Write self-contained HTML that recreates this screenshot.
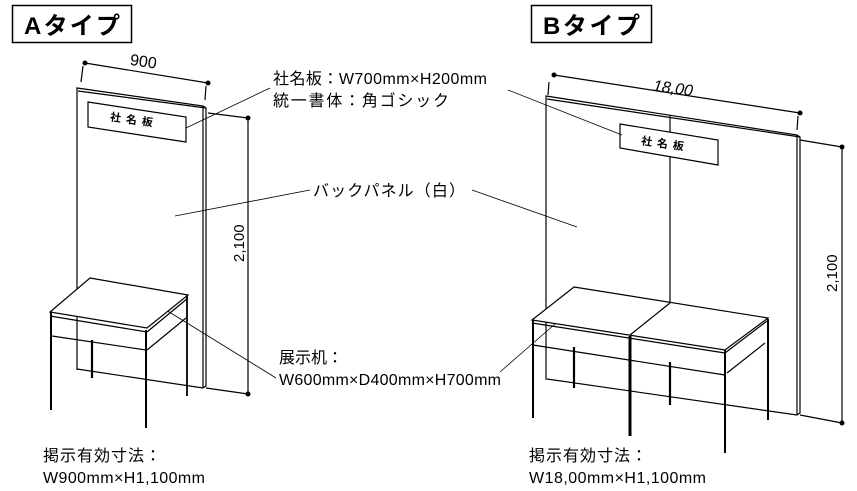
<!DOCTYPE html>
<html><head><meta charset="utf-8"><style>
html,body{margin:0;padding:0;background:#fff;}
svg{display:block;}
text{font-family:"Liberation Sans","Noto Sans CJK JP",sans-serif;fill:#000;}
</style></head><body>
<svg width="857" height="491" viewBox="0 0 857 491" xmlns="http://www.w3.org/2000/svg">
<g fill="none" stroke="#000" stroke-width="1.2">
<rect x="12.5" y="5.5" width="119" height="37" stroke-width="1.5"/>
<rect x="531.5" y="5.5" width="120" height="37" stroke-width="1.5"/>

<line x1="85" y1="63" x2="208" y2="83"/>
<line x1="83" y1="66" x2="81" y2="82"/>
<line x1="206" y1="86" x2="205" y2="100"/>
<polyline points="77,370 77,88 203,106 203,388"/>
<line x1="78" y1="91" x2="206" y2="108"/>
<polyline points="203,106 206,108 206,386 203,388"/>
<line x1="77" y1="369" x2="203" y2="388"/>
<polygon points="88,102 186,117 186,142 88,127"/>
<line x1="248" y1="118" x2="248" y2="394"/>
<line x1="208" y1="113" x2="248" y2="118"/>
<line x1="206" y1="388" x2="248" y2="394"/>
<line x1="186" y1="128" x2="270" y2="88" stroke-width="0.8"/>
<line x1="175" y1="216" x2="310" y2="190" stroke-width="0.8"/>
<line x1="153" y1="302" x2="276" y2="378" stroke-width="0.8"/>
<polygon points="90,278 188,295 147,328 50,312" fill="#fff"/>
<line x1="50" y1="316" x2="147" y2="332"/>
<line x1="147" y1="332" x2="188" y2="298"/>
<line x1="52" y1="336" x2="146" y2="350"/>
<line x1="147" y1="350" x2="186" y2="318"/>
<line x1="51" y1="312" x2="51" y2="410" stroke-width="2"/>
<line x1="146" y1="330" x2="146" y2="428" stroke-width="2"/>
<line x1="187" y1="296" x2="187" y2="396" stroke-width="1.8"/>
<line x1="92" y1="340" x2="92" y2="378" stroke-width="2.2"/>

<line x1="554" y1="75" x2="800" y2="113"/>
<line x1="549" y1="82" x2="548" y2="95"/>
<line x1="798" y1="116" x2="797" y2="130"/>
<polyline points="546,380 546,96 797,135 797,415"/>
<line x1="547" y1="99" x2="800" y2="137"/>
<polyline points="797,135 800,137 800,413 797,415"/>
<line x1="547" y1="379" x2="797" y2="415"/>
<line x1="670" y1="115" x2="670" y2="305"/>
<polygon points="620,124 718,140 718,165 620,148" fill="#fff"/>
<line x1="842" y1="147" x2="842" y2="423"/>
<line x1="800" y1="140" x2="842" y2="147"/>
<line x1="800" y1="415" x2="842" y2="423"/>
<line x1="508" y1="90" x2="622" y2="135" stroke-width="0.8"/>
<line x1="472" y1="190" x2="577" y2="227" stroke-width="0.8"/>
<line x1="500" y1="372" x2="563" y2="317" stroke-width="0.8"/>
<polygon points="574,287 768,318 725,350 532,320" fill="#fff"/>
<line x1="670" y1="303" x2="630" y2="335"/>
<line x1="532" y1="323" x2="725" y2="353"/>
<line x1="725" y1="353" x2="767" y2="321"/>
<line x1="533" y1="345" x2="725" y2="375"/>
<line x1="727" y1="373" x2="765" y2="343"/>
<line x1="533" y1="320" x2="533" y2="418" stroke-width="2"/>
<line x1="630" y1="336" x2="630" y2="436" stroke-width="3"/>
<line x1="725" y1="350" x2="725" y2="453" stroke-width="2"/>
<line x1="768" y1="319" x2="768" y2="420" stroke-width="2"/>
<line x1="574" y1="347" x2="574" y2="388" stroke-width="2.2"/>
<line x1="670" y1="362" x2="670" y2="405" stroke-width="2.2"/>
</g>
<g fill="#000">
<circle cx="85" cy="63" r="2.5"/><circle cx="208" cy="83" r="2.5"/>
<circle cx="248" cy="118" r="2.5"/><circle cx="248" cy="394" r="2.5"/>
<circle cx="554" cy="75" r="2.5"/><circle cx="800" cy="113" r="2.5"/>
<circle cx="842" cy="147" r="2.5"/><circle cx="842" cy="423" r="2.5"/>
</g>
<text x="24" y="34" font-size="24" font-weight="bold" textLength="96">Aタイプ</text>
<text x="543" y="34" font-size="24" font-weight="bold" textLength="97">Bタイプ</text>
<text x="130" y="67" font-size="16" transform="rotate(8 145 62)">900</text>
<text x="653" y="93" font-size="16" font-style="italic" transform="rotate(8 670 88)">18,00</text>
<text x="110" y="124" font-size="11" font-weight="bold" transform="rotate(8 135 120)" letter-spacing="5">社名板</text>
<text x="641" y="148" font-size="11" font-weight="bold" transform="rotate(8 667 144)" letter-spacing="5">社名板</text>
<text x="0" y="0" font-size="15" transform="translate(244,262) rotate(-90)">2,100</text>
<text x="0" y="0" font-size="15" transform="translate(837,292) rotate(-90)">2,100</text>
<text x="273" y="84" font-size="16" textLength="214">社名板：W700mm×H200mm</text>
<text x="273" y="106" font-size="16" textLength="176">統一書体：角ゴシック</text>
<text x="313" y="196" font-size="16" textLength="152">バックパネル（白）</text>
<text x="279" y="363" font-size="16" textLength="64">展示机：</text>
<text x="279" y="385" font-size="16" textLength="222">W600mm×D400mm×H700mm</text>
<text x="43" y="461" font-size="16" textLength="118">掲示有効寸法：</text>
<text x="43" y="483" font-size="16" textLength="162">W900mm×H1,100mm</text>
<text x="529" y="461" font-size="16" textLength="118">掲示有効寸法：</text>
<text x="529" y="483" font-size="16" textLength="177">W18,00mm×H1,100mm</text>
</svg>
</body></html>
